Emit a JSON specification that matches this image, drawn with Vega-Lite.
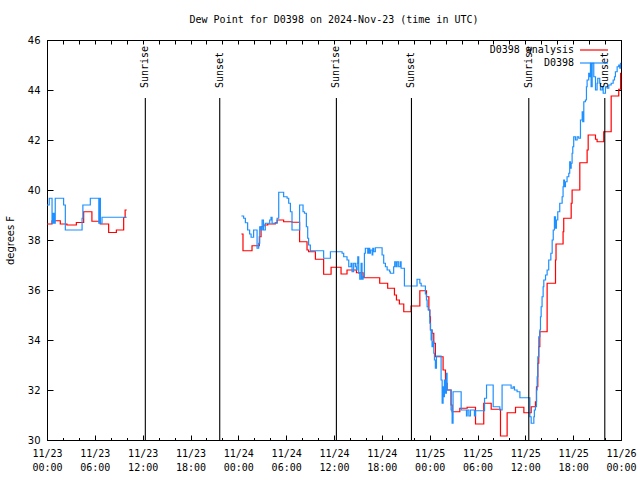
{
  "$schema": "https://vega.github.io/schema/vega-lite/v6.json",
  "width": 574,
  "height": 400,
  "autosize": {"type": "none"},
  "padding": {"left": 47, "top": 40, "right": 19, "bottom": 40},
  "background": "white",
  "title": {"text": "Dew Point for D0398 on 2024-Nov-23 (time in UTC)", "font": "DejaVu Sans Mono", "fontSize": 10, "fontWeight": "normal", "color": "black", "anchor": "middle", "frame": "group", "baseline": "alphabetic", "offset": 2},
  "config": {
    "view": {"stroke": "black", "strokeWidth": 1},
    "axis": {"domainColor": "black", "tickColor": "black", "labelColor": "black", "titleColor": "black", "grid": false, "domainWidth": 1, "tickWidth": 1}
  },
  "datasets": {
    "obs": [
      {"t": "2024-11-23T00:00:00Z", "s": "D0398 analysis", "g": 1, "v": 38.64},
      {"t": "2024-11-23T00:38:00Z", "s": "D0398 analysis", "g": 1, "v": 38.77},
      {"t": "2024-11-23T01:40:00Z", "s": "D0398 analysis", "g": 1, "v": 38.64},
      {"t": "2024-11-23T02:30:00Z", "s": "D0398 analysis", "g": 1, "v": 38.6},
      {"t": "2024-11-23T03:41:00Z", "s": "D0398 analysis", "g": 1, "v": 38.7},
      {"t": "2024-11-23T04:36:00Z", "s": "D0398 analysis", "g": 1, "v": 39.13},
      {"t": "2024-11-23T05:38:00Z", "s": "D0398 analysis", "g": 1, "v": 38.75},
      {"t": "2024-11-23T06:41:00Z", "s": "D0398 analysis", "g": 1, "v": 38.64},
      {"t": "2024-11-23T07:44:00Z", "s": "D0398 analysis", "g": 1, "v": 38.3},
      {"t": "2024-11-23T08:42:00Z", "s": "D0398 analysis", "g": 1, "v": 38.4},
      {"t": "2024-11-23T09:37:00Z", "s": "D0398 analysis", "g": 1, "v": 38.9},
      {"t": "2024-11-23T09:48:00Z", "s": "D0398 analysis", "g": 1, "v": 39.2},
      {"t": "2024-11-23T10:00:00Z", "s": "D0398 analysis", "g": 1, "v": 39.2},
      {"t": "2024-11-24T00:23:00Z", "s": "D0398 analysis", "g": 2, "v": 38.24},
      {"t": "2024-11-24T00:35:00Z", "s": "D0398 analysis", "g": 2, "v": 37.57},
      {"t": "2024-11-24T01:43:00Z", "s": "D0398 analysis", "g": 2, "v": 37.77},
      {"t": "2024-11-24T02:38:00Z", "s": "D0398 analysis", "g": 2, "v": 38.13},
      {"t": "2024-11-24T02:51:00Z", "s": "D0398 analysis", "g": 2, "v": 38.53},
      {"t": "2024-11-24T03:11:00Z", "s": "D0398 analysis", "g": 2, "v": 38.6},
      {"t": "2024-11-24T03:41:00Z", "s": "D0398 analysis", "g": 2, "v": 38.64},
      {"t": "2024-11-24T04:38:00Z", "s": "D0398 analysis", "g": 2, "v": 38.69},
      {"t": "2024-11-24T04:52:00Z", "s": "D0398 analysis", "g": 2, "v": 38.8},
      {"t": "2024-11-24T05:41:00Z", "s": "D0398 analysis", "g": 2, "v": 38.73},
      {"t": "2024-11-24T06:44:00Z", "s": "D0398 analysis", "g": 2, "v": 38.71},
      {"t": "2024-11-24T07:41:00Z", "s": "D0398 analysis", "g": 2, "v": 37.93},
      {"t": "2024-11-24T08:37:00Z", "s": "D0398 analysis", "g": 2, "v": 37.6},
      {"t": "2024-11-24T08:49:00Z", "s": "D0398 analysis", "g": 2, "v": 37.53},
      {"t": "2024-11-24T09:40:00Z", "s": "D0398 analysis", "g": 2, "v": 37.23},
      {"t": "2024-11-24T10:42:00Z", "s": "D0398 analysis", "g": 2, "v": 36.63},
      {"t": "2024-11-24T11:38:00Z", "s": "D0398 analysis", "g": 2, "v": 36.91},
      {"t": "2024-11-24T12:53:00Z", "s": "D0398 analysis", "g": 2, "v": 36.64},
      {"t": "2024-11-24T13:38:00Z", "s": "D0398 analysis", "g": 2, "v": 36.8},
      {"t": "2024-11-24T14:49:00Z", "s": "D0398 analysis", "g": 2, "v": 36.69},
      {"t": "2024-11-24T15:39:00Z", "s": "D0398 analysis", "g": 2, "v": 36.53},
      {"t": "2024-11-24T15:44:00Z", "s": "D0398 analysis", "g": 2, "v": 36.49},
      {"t": "2024-11-24T17:44:00Z", "s": "D0398 analysis", "g": 2, "v": 36.27},
      {"t": "2024-11-24T18:44:00Z", "s": "D0398 analysis", "g": 2, "v": 36.07},
      {"t": "2024-11-24T19:35:00Z", "s": "D0398 analysis", "g": 2, "v": 35.8},
      {"t": "2024-11-24T19:50:00Z", "s": "D0398 analysis", "g": 2, "v": 35.6},
      {"t": "2024-11-24T20:12:00Z", "s": "D0398 analysis", "g": 2, "v": 35.44},
      {"t": "2024-11-24T20:45:00Z", "s": "D0398 analysis", "g": 2, "v": 35.13},
      {"t": "2024-11-24T21:40:00Z", "s": "D0398 analysis", "g": 2, "v": 35.36},
      {"t": "2024-11-24T22:46:00Z", "s": "D0398 analysis", "g": 2, "v": 35.97},
      {"t": "2024-11-24T23:36:00Z", "s": "D0398 analysis", "g": 2, "v": 35.73},
      {"t": "2024-11-24T23:54:00Z", "s": "D0398 analysis", "g": 2, "v": 35.2},
      {"t": "2024-11-25T00:01:00Z", "s": "D0398 analysis", "g": 2, "v": 34.93},
      {"t": "2024-11-25T00:06:00Z", "s": "D0398 analysis", "g": 2, "v": 34.4},
      {"t": "2024-11-25T00:18:00Z", "s": "D0398 analysis", "g": 2, "v": 34.27},
      {"t": "2024-11-25T00:31:00Z", "s": "D0398 analysis", "g": 2, "v": 33.87},
      {"t": "2024-11-25T00:43:00Z", "s": "D0398 analysis", "g": 2, "v": 33.33},
      {"t": "2024-11-25T01:41:00Z", "s": "D0398 analysis", "g": 2, "v": 32.8},
      {"t": "2024-11-25T01:59:00Z", "s": "D0398 analysis", "g": 2, "v": 32.27},
      {"t": "2024-11-25T02:11:00Z", "s": "D0398 analysis", "g": 2, "v": 32.0},
      {"t": "2024-11-25T02:41:00Z", "s": "D0398 analysis", "g": 2, "v": 31.4},
      {"t": "2024-11-25T02:49:00Z", "s": "D0398 analysis", "g": 2, "v": 31.13},
      {"t": "2024-11-25T03:47:00Z", "s": "D0398 analysis", "g": 2, "v": 31.27},
      {"t": "2024-11-25T04:42:00Z", "s": "D0398 analysis", "g": 2, "v": 31.31},
      {"t": "2024-11-25T05:45:00Z", "s": "D0398 analysis", "g": 2, "v": 30.64},
      {"t": "2024-11-25T06:47:00Z", "s": "D0398 analysis", "g": 2, "v": 31.47},
      {"t": "2024-11-25T07:43:00Z", "s": "D0398 analysis", "g": 2, "v": 31.23},
      {"t": "2024-11-25T08:53:00Z", "s": "D0398 analysis", "g": 2, "v": 30.16},
      {"t": "2024-11-25T09:43:00Z", "s": "D0398 analysis", "g": 2, "v": 31.09},
      {"t": "2024-11-25T10:46:00Z", "s": "D0398 analysis", "g": 2, "v": 31.31},
      {"t": "2024-11-25T11:49:00Z", "s": "D0398 analysis", "g": 2, "v": 31.09},
      {"t": "2024-11-25T12:44:00Z", "s": "D0398 analysis", "g": 2, "v": 31.33},
      {"t": "2024-11-25T13:16:00Z", "s": "D0398 analysis", "g": 2, "v": 31.53},
      {"t": "2024-11-25T13:24:00Z", "s": "D0398 analysis", "g": 2, "v": 32.13},
      {"t": "2024-11-25T13:34:00Z", "s": "D0398 analysis", "g": 2, "v": 33.07},
      {"t": "2024-11-25T13:41:00Z", "s": "D0398 analysis", "g": 2, "v": 33.73},
      {"t": "2024-11-25T13:49:00Z", "s": "D0398 analysis", "g": 2, "v": 34.33},
      {"t": "2024-11-25T14:44:00Z", "s": "D0398 analysis", "g": 2, "v": 36.27},
      {"t": "2024-11-25T15:47:00Z", "s": "D0398 analysis", "g": 2, "v": 37.2},
      {"t": "2024-11-25T15:51:00Z", "s": "D0398 analysis", "g": 2, "v": 37.84},
      {"t": "2024-11-25T16:44:00Z", "s": "D0398 analysis", "g": 2, "v": 38.33},
      {"t": "2024-11-25T16:49:00Z", "s": "D0398 analysis", "g": 2, "v": 38.87},
      {"t": "2024-11-25T17:45:00Z", "s": "D0398 analysis", "g": 2, "v": 39.47},
      {"t": "2024-11-25T17:52:00Z", "s": "D0398 analysis", "g": 2, "v": 40.0},
      {"t": "2024-11-25T18:50:00Z", "s": "D0398 analysis", "g": 2, "v": 41.09},
      {"t": "2024-11-25T19:45:00Z", "s": "D0398 analysis", "g": 2, "v": 41.6},
      {"t": "2024-11-25T19:53:00Z", "s": "D0398 analysis", "g": 2, "v": 42.2},
      {"t": "2024-11-25T20:48:00Z", "s": "D0398 analysis", "g": 2, "v": 42.03},
      {"t": "2024-11-25T21:00:00Z", "s": "D0398 analysis", "g": 2, "v": 41.93},
      {"t": "2024-11-25T21:50:00Z", "s": "D0398 analysis", "g": 2, "v": 42.33},
      {"t": "2024-11-25T22:46:00Z", "s": "D0398 analysis", "g": 2, "v": 43.76},
      {"t": "2024-11-25T23:43:00Z", "s": "D0398 analysis", "g": 2, "v": 44.03},
      {"t": "2024-11-25T23:57:00Z", "s": "D0398 analysis", "g": 2, "v": 44.67},
      {"t": "2024-11-26T00:00:00Z", "s": "D0398 analysis", "g": 2, "v": 44.67},
      {"t": "2024-11-23T00:00:00Z", "s": "D0398", "g": 1, "v": 39.4},
      {"t": "2024-11-23T00:17:00Z", "s": "D0398", "g": 1, "v": 39.67},
      {"t": "2024-11-23T00:38:00Z", "s": "D0398", "g": 1, "v": 38.67},
      {"t": "2024-11-23T00:45:00Z", "s": "D0398", "g": 1, "v": 39.07},
      {"t": "2024-11-23T00:54:00Z", "s": "D0398", "g": 1, "v": 38.67},
      {"t": "2024-11-23T01:02:00Z", "s": "D0398", "g": 1, "v": 39.67},
      {"t": "2024-11-23T02:05:00Z", "s": "D0398", "g": 1, "v": 39.4},
      {"t": "2024-11-23T02:18:00Z", "s": "D0398", "g": 1, "v": 38.4},
      {"t": "2024-11-23T04:24:00Z", "s": "D0398", "g": 1, "v": 38.87},
      {"t": "2024-11-23T04:30:00Z", "s": "D0398", "g": 1, "v": 39.4},
      {"t": "2024-11-23T05:26:00Z", "s": "D0398", "g": 1, "v": 39.67},
      {"t": "2024-11-23T06:30:00Z", "s": "D0398", "g": 1, "v": 38.67},
      {"t": "2024-11-23T06:36:00Z", "s": "D0398", "g": 1, "v": 39.67},
      {"t": "2024-11-23T06:42:00Z", "s": "D0398", "g": 1, "v": 38.67},
      {"t": "2024-11-23T06:54:00Z", "s": "D0398", "g": 1, "v": 38.91},
      {"t": "2024-11-23T10:00:00Z", "s": "D0398", "g": 1, "v": 38.91},
      {"t": "2024-11-24T00:23:00Z", "s": "D0398", "g": 2, "v": 38.96},
      {"t": "2024-11-24T00:40:00Z", "s": "D0398", "g": 2, "v": 38.87},
      {"t": "2024-11-24T00:53:00Z", "s": "D0398", "g": 2, "v": 38.69},
      {"t": "2024-11-24T01:10:00Z", "s": "D0398", "g": 2, "v": 38.4},
      {"t": "2024-11-24T01:25:00Z", "s": "D0398", "g": 2, "v": 38.24},
      {"t": "2024-11-24T01:36:00Z", "s": "D0398", "g": 2, "v": 38.11},
      {"t": "2024-11-24T01:55:00Z", "s": "D0398", "g": 2, "v": 38.4},
      {"t": "2024-11-24T02:21:00Z", "s": "D0398", "g": 2, "v": 37.67},
      {"t": "2024-11-24T02:33:00Z", "s": "D0398", "g": 2, "v": 37.87},
      {"t": "2024-11-24T02:41:00Z", "s": "D0398", "g": 2, "v": 38.53},
      {"t": "2024-11-24T02:51:00Z", "s": "D0398", "g": 2, "v": 38.4},
      {"t": "2024-11-24T02:59:00Z", "s": "D0398", "g": 2, "v": 38.8},
      {"t": "2024-11-24T03:09:00Z", "s": "D0398", "g": 2, "v": 38.4},
      {"t": "2024-11-24T03:23:00Z", "s": "D0398", "g": 2, "v": 38.67},
      {"t": "2024-11-24T03:56:00Z", "s": "D0398", "g": 2, "v": 38.8},
      {"t": "2024-11-24T04:06:00Z", "s": "D0398", "g": 2, "v": 38.91},
      {"t": "2024-11-24T04:14:00Z", "s": "D0398", "g": 2, "v": 38.67},
      {"t": "2024-11-24T04:52:00Z", "s": "D0398", "g": 2, "v": 38.87},
      {"t": "2024-11-24T05:04:00Z", "s": "D0398", "g": 2, "v": 39.91},
      {"t": "2024-11-24T05:41:00Z", "s": "D0398", "g": 2, "v": 39.73},
      {"t": "2024-11-24T06:07:00Z", "s": "D0398", "g": 2, "v": 39.67},
      {"t": "2024-11-24T06:19:00Z", "s": "D0398", "g": 2, "v": 39.47},
      {"t": "2024-11-24T06:32:00Z", "s": "D0398", "g": 2, "v": 39.13},
      {"t": "2024-11-24T06:44:00Z", "s": "D0398", "g": 2, "v": 38.4},
      {"t": "2024-11-24T07:41:00Z", "s": "D0398", "g": 2, "v": 39.4},
      {"t": "2024-11-24T08:07:00Z", "s": "D0398", "g": 2, "v": 39.13},
      {"t": "2024-11-24T08:18:00Z", "s": "D0398", "g": 2, "v": 39.07},
      {"t": "2024-11-24T08:32:00Z", "s": "D0398", "g": 2, "v": 38.53},
      {"t": "2024-11-24T08:42:00Z", "s": "D0398", "g": 2, "v": 38.07},
      {"t": "2024-11-24T08:49:00Z", "s": "D0398", "g": 2, "v": 37.8},
      {"t": "2024-11-24T09:02:00Z", "s": "D0398", "g": 2, "v": 37.57},
      {"t": "2024-11-24T10:42:00Z", "s": "D0398", "g": 2, "v": 37.27},
      {"t": "2024-11-24T11:33:00Z", "s": "D0398", "g": 2, "v": 37.53},
      {"t": "2024-11-24T13:01:00Z", "s": "D0398", "g": 2, "v": 37.47},
      {"t": "2024-11-24T13:13:00Z", "s": "D0398", "g": 2, "v": 37.33},
      {"t": "2024-11-24T13:38:00Z", "s": "D0398", "g": 2, "v": 37.2},
      {"t": "2024-11-24T13:51:00Z", "s": "D0398", "g": 2, "v": 36.93},
      {"t": "2024-11-24T14:08:00Z", "s": "D0398", "g": 2, "v": 37.07},
      {"t": "2024-11-24T14:16:00Z", "s": "D0398", "g": 2, "v": 36.73},
      {"t": "2024-11-24T14:28:00Z", "s": "D0398", "g": 2, "v": 37.07},
      {"t": "2024-11-24T14:41:00Z", "s": "D0398", "g": 2, "v": 36.93},
      {"t": "2024-11-24T14:49:00Z", "s": "D0398", "g": 2, "v": 36.8},
      {"t": "2024-11-24T14:54:00Z", "s": "D0398", "g": 2, "v": 37.07},
      {"t": "2024-11-24T14:59:00Z", "s": "D0398", "g": 2, "v": 37.33},
      {"t": "2024-11-24T15:06:00Z", "s": "D0398", "g": 2, "v": 36.67},
      {"t": "2024-11-24T15:14:00Z", "s": "D0398", "g": 2, "v": 36.43},
      {"t": "2024-11-24T15:24:00Z", "s": "D0398", "g": 2, "v": 37.07},
      {"t": "2024-11-24T15:31:00Z", "s": "D0398", "g": 2, "v": 36.43},
      {"t": "2024-11-24T15:39:00Z", "s": "D0398", "g": 2, "v": 36.53},
      {"t": "2024-11-24T15:49:00Z", "s": "D0398", "g": 2, "v": 37.47},
      {"t": "2024-11-24T15:56:00Z", "s": "D0398", "g": 2, "v": 37.67},
      {"t": "2024-11-24T16:14:00Z", "s": "D0398", "g": 2, "v": 37.47},
      {"t": "2024-11-24T16:22:00Z", "s": "D0398", "g": 2, "v": 37.67},
      {"t": "2024-11-24T16:29:00Z", "s": "D0398", "g": 2, "v": 37.47},
      {"t": "2024-11-24T16:34:00Z", "s": "D0398", "g": 2, "v": 37.6},
      {"t": "2024-11-24T16:47:00Z", "s": "D0398", "g": 2, "v": 37.4},
      {"t": "2024-11-24T16:52:00Z", "s": "D0398", "g": 2, "v": 37.67},
      {"t": "2024-11-24T16:59:00Z", "s": "D0398", "g": 2, "v": 37.53},
      {"t": "2024-11-24T17:11:00Z", "s": "D0398", "g": 2, "v": 37.69},
      {"t": "2024-11-24T18:02:00Z", "s": "D0398", "g": 2, "v": 37.4},
      {"t": "2024-11-24T18:14:00Z", "s": "D0398", "g": 2, "v": 37.07},
      {"t": "2024-11-24T18:27:00Z", "s": "D0398", "g": 2, "v": 36.93},
      {"t": "2024-11-24T18:40:00Z", "s": "D0398", "g": 2, "v": 36.8},
      {"t": "2024-11-24T18:59:00Z", "s": "D0398", "g": 2, "v": 36.73},
      {"t": "2024-11-24T19:04:00Z", "s": "D0398", "g": 2, "v": 36.67},
      {"t": "2024-11-24T19:29:00Z", "s": "D0398", "g": 2, "v": 36.93},
      {"t": "2024-11-24T19:37:00Z", "s": "D0398", "g": 2, "v": 37.13},
      {"t": "2024-11-24T19:47:00Z", "s": "D0398", "g": 2, "v": 36.93},
      {"t": "2024-11-24T19:55:00Z", "s": "D0398", "g": 2, "v": 37.13},
      {"t": "2024-11-24T20:07:00Z", "s": "D0398", "g": 2, "v": 36.93},
      {"t": "2024-11-24T20:20:00Z", "s": "D0398", "g": 2, "v": 37.13},
      {"t": "2024-11-24T20:25:00Z", "s": "D0398", "g": 2, "v": 36.87},
      {"t": "2024-11-24T20:50:00Z", "s": "D0398", "g": 2, "v": 36.16},
      {"t": "2024-11-24T22:25:00Z", "s": "D0398", "g": 2, "v": 36.43},
      {"t": "2024-11-24T22:46:00Z", "s": "D0398", "g": 2, "v": 36.27},
      {"t": "2024-11-24T22:56:00Z", "s": "D0398", "g": 2, "v": 36.16},
      {"t": "2024-11-24T23:28:00Z", "s": "D0398", "g": 2, "v": 35.84},
      {"t": "2024-11-24T23:36:00Z", "s": "D0398", "g": 2, "v": 35.6},
      {"t": "2024-11-24T23:41:00Z", "s": "D0398", "g": 2, "v": 35.33},
      {"t": "2024-11-24T23:49:00Z", "s": "D0398", "g": 2, "v": 35.2},
      {"t": "2024-11-25T00:01:00Z", "s": "D0398", "g": 2, "v": 34.67},
      {"t": "2024-11-25T00:06:00Z", "s": "D0398", "g": 2, "v": 34.4},
      {"t": "2024-11-25T00:11:00Z", "s": "D0398", "g": 2, "v": 34.0},
      {"t": "2024-11-25T00:14:00Z", "s": "D0398", "g": 2, "v": 34.4},
      {"t": "2024-11-25T00:18:00Z", "s": "D0398", "g": 2, "v": 33.73},
      {"t": "2024-11-25T00:26:00Z", "s": "D0398", "g": 2, "v": 33.93},
      {"t": "2024-11-25T00:31:00Z", "s": "D0398", "g": 2, "v": 33.47},
      {"t": "2024-11-25T00:36:00Z", "s": "D0398", "g": 2, "v": 33.2},
      {"t": "2024-11-25T00:43:00Z", "s": "D0398", "g": 2, "v": 32.87},
      {"t": "2024-11-25T00:51:00Z", "s": "D0398", "g": 2, "v": 33.36},
      {"t": "2024-11-25T01:26:00Z", "s": "D0398", "g": 2, "v": 32.4},
      {"t": "2024-11-25T01:34:00Z", "s": "D0398", "g": 2, "v": 31.47},
      {"t": "2024-11-25T01:41:00Z", "s": "D0398", "g": 2, "v": 32.13},
      {"t": "2024-11-25T01:46:00Z", "s": "D0398", "g": 2, "v": 31.73},
      {"t": "2024-11-25T01:51:00Z", "s": "D0398", "g": 2, "v": 32.4},
      {"t": "2024-11-25T01:59:00Z", "s": "D0398", "g": 2, "v": 31.87},
      {"t": "2024-11-25T02:06:00Z", "s": "D0398", "g": 2, "v": 32.67},
      {"t": "2024-11-25T02:11:00Z", "s": "D0398", "g": 2, "v": 32.0},
      {"t": "2024-11-25T02:41:00Z", "s": "D0398", "g": 2, "v": 31.2},
      {"t": "2024-11-25T02:49:00Z", "s": "D0398", "g": 2, "v": 30.67},
      {"t": "2024-11-25T02:56:00Z", "s": "D0398", "g": 2, "v": 31.93},
      {"t": "2024-11-25T03:57:00Z", "s": "D0398", "g": 2, "v": 31.2},
      {"t": "2024-11-25T04:37:00Z", "s": "D0398", "g": 2, "v": 30.96},
      {"t": "2024-11-25T04:42:00Z", "s": "D0398", "g": 2, "v": 31.2},
      {"t": "2024-11-25T04:55:00Z", "s": "D0398", "g": 2, "v": 30.96},
      {"t": "2024-11-25T05:07:00Z", "s": "D0398", "g": 2, "v": 31.2},
      {"t": "2024-11-25T05:37:00Z", "s": "D0398", "g": 2, "v": 30.96},
      {"t": "2024-11-25T05:45:00Z", "s": "D0398", "g": 2, "v": 31.17},
      {"t": "2024-11-25T06:53:00Z", "s": "D0398", "g": 2, "v": 31.67},
      {"t": "2024-11-25T07:08:00Z", "s": "D0398", "g": 2, "v": 32.2},
      {"t": "2024-11-25T07:58:00Z", "s": "D0398", "g": 2, "v": 31.33},
      {"t": "2024-11-25T08:48:00Z", "s": "D0398", "g": 2, "v": 31.2},
      {"t": "2024-11-25T09:05:00Z", "s": "D0398", "g": 2, "v": 32.2},
      {"t": "2024-11-25T10:13:00Z", "s": "D0398", "g": 2, "v": 32.07},
      {"t": "2024-11-25T10:28:00Z", "s": "D0398", "g": 2, "v": 32.13},
      {"t": "2024-11-25T10:38:00Z", "s": "D0398", "g": 2, "v": 32.0},
      {"t": "2024-11-25T10:58:00Z", "s": "D0398", "g": 2, "v": 31.93},
      {"t": "2024-11-25T11:19:00Z", "s": "D0398", "g": 2, "v": 31.69},
      {"t": "2024-11-25T12:34:00Z", "s": "D0398", "g": 2, "v": 30.93},
      {"t": "2024-11-25T12:44:00Z", "s": "D0398", "g": 2, "v": 30.67},
      {"t": "2024-11-25T13:04:00Z", "s": "D0398", "g": 2, "v": 30.93},
      {"t": "2024-11-25T13:08:00Z", "s": "D0398", "g": 2, "v": 31.2},
      {"t": "2024-11-25T13:16:00Z", "s": "D0398", "g": 2, "v": 31.33},
      {"t": "2024-11-25T13:24:00Z", "s": "D0398", "g": 2, "v": 32.0},
      {"t": "2024-11-25T13:29:00Z", "s": "D0398", "g": 2, "v": 32.53},
      {"t": "2024-11-25T13:34:00Z", "s": "D0398", "g": 2, "v": 33.33},
      {"t": "2024-11-25T13:41:00Z", "s": "D0398", "g": 2, "v": 34.13},
      {"t": "2024-11-25T13:49:00Z", "s": "D0398", "g": 2, "v": 34.4},
      {"t": "2024-11-25T13:54:00Z", "s": "D0398", "g": 2, "v": 34.93},
      {"t": "2024-11-25T13:59:00Z", "s": "D0398", "g": 2, "v": 35.33},
      {"t": "2024-11-25T14:06:00Z", "s": "D0398", "g": 2, "v": 35.73},
      {"t": "2024-11-25T14:14:00Z", "s": "D0398", "g": 2, "v": 36.13},
      {"t": "2024-11-25T14:19:00Z", "s": "D0398", "g": 2, "v": 36.4},
      {"t": "2024-11-25T14:32:00Z", "s": "D0398", "g": 2, "v": 36.6},
      {"t": "2024-11-25T14:44:00Z", "s": "D0398", "g": 2, "v": 36.8},
      {"t": "2024-11-25T14:56:00Z", "s": "D0398", "g": 2, "v": 37.2},
      {"t": "2024-11-25T15:12:00Z", "s": "D0398", "g": 2, "v": 37.47},
      {"t": "2024-11-25T15:22:00Z", "s": "D0398", "g": 2, "v": 38.0},
      {"t": "2024-11-25T15:30:00Z", "s": "D0398", "g": 2, "v": 38.4},
      {"t": "2024-11-25T15:39:00Z", "s": "D0398", "g": 2, "v": 38.93},
      {"t": "2024-11-25T15:47:00Z", "s": "D0398", "g": 2, "v": 38.47},
      {"t": "2024-11-25T15:54:00Z", "s": "D0398", "g": 2, "v": 38.8},
      {"t": "2024-11-25T16:04:00Z", "s": "D0398", "g": 2, "v": 39.13},
      {"t": "2024-11-25T16:19:00Z", "s": "D0398", "g": 2, "v": 39.47},
      {"t": "2024-11-25T16:37:00Z", "s": "D0398", "g": 2, "v": 39.73},
      {"t": "2024-11-25T16:44:00Z", "s": "D0398", "g": 2, "v": 40.13},
      {"t": "2024-11-25T16:49:00Z", "s": "D0398", "g": 2, "v": 40.4},
      {"t": "2024-11-25T16:54:00Z", "s": "D0398", "g": 2, "v": 40.13},
      {"t": "2024-11-25T17:02:00Z", "s": "D0398", "g": 2, "v": 40.33},
      {"t": "2024-11-25T17:14:00Z", "s": "D0398", "g": 2, "v": 40.53},
      {"t": "2024-11-25T17:27:00Z", "s": "D0398", "g": 2, "v": 40.67},
      {"t": "2024-11-25T17:34:00Z", "s": "D0398", "g": 2, "v": 41.13},
      {"t": "2024-11-25T17:40:00Z", "s": "D0398", "g": 2, "v": 40.87},
      {"t": "2024-11-25T17:45:00Z", "s": "D0398", "g": 2, "v": 41.07},
      {"t": "2024-11-25T17:52:00Z", "s": "D0398", "g": 2, "v": 41.47},
      {"t": "2024-11-25T17:57:00Z", "s": "D0398", "g": 2, "v": 41.73},
      {"t": "2024-11-25T18:04:00Z", "s": "D0398", "g": 2, "v": 42.13},
      {"t": "2024-11-25T18:17:00Z", "s": "D0398", "g": 2, "v": 42.0},
      {"t": "2024-11-25T18:30:00Z", "s": "D0398", "g": 2, "v": 42.13},
      {"t": "2024-11-25T18:42:00Z", "s": "D0398", "g": 2, "v": 42.07},
      {"t": "2024-11-25T18:55:00Z", "s": "D0398", "g": 2, "v": 42.8},
      {"t": "2024-11-25T19:08:00Z", "s": "D0398", "g": 2, "v": 43.13},
      {"t": "2024-11-25T19:12:00Z", "s": "D0398", "g": 2, "v": 42.73},
      {"t": "2024-11-25T19:20:00Z", "s": "D0398", "g": 2, "v": 43.53},
      {"t": "2024-11-25T19:32:00Z", "s": "D0398", "g": 2, "v": 43.6},
      {"t": "2024-11-25T19:40:00Z", "s": "D0398", "g": 2, "v": 44.13},
      {"t": "2024-11-25T19:45:00Z", "s": "D0398", "g": 2, "v": 44.4},
      {"t": "2024-11-25T19:57:00Z", "s": "D0398", "g": 2, "v": 44.67},
      {"t": "2024-11-25T20:05:00Z", "s": "D0398", "g": 2, "v": 44.53},
      {"t": "2024-11-25T20:10:00Z", "s": "D0398", "g": 2, "v": 45.07},
      {"t": "2024-11-25T20:15:00Z", "s": "D0398", "g": 2, "v": 44.13},
      {"t": "2024-11-25T20:23:00Z", "s": "D0398", "g": 2, "v": 45.07},
      {"t": "2024-11-25T20:35:00Z", "s": "D0398", "g": 2, "v": 44.53},
      {"t": "2024-11-25T20:48:00Z", "s": "D0398", "g": 2, "v": 44.0},
      {"t": "2024-11-25T21:00:00Z", "s": "D0398", "g": 2, "v": 44.27},
      {"t": "2024-11-25T21:05:00Z", "s": "D0398", "g": 2, "v": 44.47},
      {"t": "2024-11-25T21:20:00Z", "s": "D0398", "g": 2, "v": 44.27},
      {"t": "2024-11-25T21:25:00Z", "s": "D0398", "g": 2, "v": 44.0},
      {"t": "2024-11-25T21:38:00Z", "s": "D0398", "g": 2, "v": 44.13},
      {"t": "2024-11-25T21:46:00Z", "s": "D0398", "g": 2, "v": 43.87},
      {"t": "2024-11-25T22:03:00Z", "s": "D0398", "g": 2, "v": 44.13},
      {"t": "2024-11-25T22:16:00Z", "s": "D0398", "g": 2, "v": 44.07},
      {"t": "2024-11-25T22:28:00Z", "s": "D0398", "g": 2, "v": 44.2},
      {"t": "2024-11-25T22:46:00Z", "s": "D0398", "g": 2, "v": 44.27},
      {"t": "2024-11-25T23:01:00Z", "s": "D0398", "g": 2, "v": 44.4},
      {"t": "2024-11-25T23:11:00Z", "s": "D0398", "g": 2, "v": 44.53},
      {"t": "2024-11-25T23:18:00Z", "s": "D0398", "g": 2, "v": 44.73},
      {"t": "2024-11-25T23:31:00Z", "s": "D0398", "g": 2, "v": 44.93},
      {"t": "2024-11-25T23:43:00Z", "s": "D0398", "g": 2, "v": 45.0},
      {"t": "2024-11-25T23:51:00Z", "s": "D0398", "g": 2, "v": 44.87},
      {"t": "2024-11-25T23:56:00Z", "s": "D0398", "g": 2, "v": 45.07},
      {"t": "2024-11-26T00:00:00Z", "s": "D0398", "g": 2, "v": 45.07}
    ],
    "sun": [
      {"t": "2024-11-23T12:20:00Z", "event": "Sunrise"},
      {"t": "2024-11-23T21:40:00Z", "event": "Sunset"},
      {"t": "2024-11-24T12:18:00Z", "event": "Sunrise"},
      {"t": "2024-11-24T21:43:00Z", "event": "Sunset"},
      {"t": "2024-11-25T12:26:00Z", "event": "Sunrise"},
      {"t": "2024-11-25T21:58:00Z", "event": "Sunset"}
    ]
  },
  "resolve": {"scale": {"x": "independent", "y": "independent"}, "axis": {"x": "independent", "y": "independent"}},
  "layer": [
    {
      "data": {"name": "obs"},
      "mark": {"type": "line", "interpolate": "step-after", "strokeWidth": 1.2},
      "encoding": {
        "x": {
          "field": "t", "type": "temporal",
          "scale": {"type": "utc", "domain": [{"year": 2024, "month": 11, "date": 23, "hours": 0, "utc": true}, {"year": 2024, "month": 11, "date": 26, "hours": 0, "utc": true}], "nice": false},
          "axis": {
            "orient": "bottom", "title": null,
            "values": [
              {"year": 2024, "month": 11, "date": 23, "hours": 0, "utc": true},
              {"year": 2024, "month": 11, "date": 23, "hours": 6, "utc": true},
              {"year": 2024, "month": 11, "date": 23, "hours": 12, "utc": true},
              {"year": 2024, "month": 11, "date": 23, "hours": 18, "utc": true},
              {"year": 2024, "month": 11, "date": 24, "hours": 0, "utc": true},
              {"year": 2024, "month": 11, "date": 24, "hours": 6, "utc": true},
              {"year": 2024, "month": 11, "date": 24, "hours": 12, "utc": true},
              {"year": 2024, "month": 11, "date": 24, "hours": 18, "utc": true},
              {"year": 2024, "month": 11, "date": 25, "hours": 0, "utc": true},
              {"year": 2024, "month": 11, "date": 25, "hours": 6, "utc": true},
              {"year": 2024, "month": 11, "date": 25, "hours": 12, "utc": true},
              {"year": 2024, "month": 11, "date": 25, "hours": 18, "utc": true},
              {"year": 2024, "month": 11, "date": 26, "hours": 0, "utc": true}
            ],
            "tickSize": -5,
            "format": "%m/%d %H:%M",
            "labelExpr": "split(datum.label, ' ')",
            "labelFont": "DejaVu Sans Mono", "labelFontSize": 10, "labelLineHeight": 14,
            "labelPadding": 13, "labelFlush": false, "labelOverlap": false, "labelBound": false, "labelAngle": 0, "labelBaseline": "top"
          }
        },
        "y": {
          "field": "v", "type": "quantitative",
          "scale": {"domain": [30, 46], "nice": false, "zero": false},
          "axis": {
            "orient": "left", "values": [30, 32, 34, 36, 38, 40, 42, 44, 46],
            "tickSize": -6, "labelPadding": 13,
            "labelFont": "DejaVu Sans", "labelFontSize": 10,
            "title": "degrees F", "titleFont": "DejaVu Sans", "titleFontSize": 10, "titleFontWeight": "normal", "titlePadding": 12
          }
        },
        "detail": {"field": "g", "type": "nominal"},
        "color": {
          "field": "s", "type": "nominal",
          "scale": {"domain": ["D0398 analysis", "D0398"], "range": ["#ff0000", "#1e90ff"]},
          "legend": {
            "title": null, "orient": "none", "legendX": 541, "legendY": 4,
            "symbolType": "M-2.8,0H2.8", "symbolSize": 100, "symbolStrokeWidth": 1.2,
            "labelAlign": "right", "labelOffset": -26,
            "labelFont": "DejaVu Sans Mono", "labelFontSize": 10, "labelColor": "black",
            "rowPadding": 2, "padding": 0, "labelLimit": 300
          }
        }
      }
    },
    {
      "data": {"name": "sun"},
      "mark": {"type": "rule", "color": "black", "strokeWidth": 1.1},
      "encoding": {
        "x": {
          "field": "t", "type": "temporal",
          "scale": {"type": "utc", "domain": [{"year": 2024, "month": 11, "date": 23, "hours": 0, "utc": true}, {"year": 2024, "month": 11, "date": 26, "hours": 0, "utc": true}], "nice": false},
          "axis": {"orient": "top", "title": null, "labels": false, "tickSize": -4,
            "values": [1732320000000, 1732327200000, 1732334400000, 1732341600000, 1732348800000, 1732356000000, 1732363200000, 1732370400000, 1732377600000, 1732384800000, 1732392000000, 1732399200000, 1732406400000, 1732413600000, 1732420800000, 1732428000000, 1732435200000, 1732442400000, 1732449600000, 1732456800000, 1732464000000, 1732471200000, 1732478400000, 1732485600000, 1732492800000, 1732500000000, 1732507200000, 1732514400000, 1732521600000, 1732528800000, 1732536000000, 1732543200000, 1732550400000, 1732557600000, 1732564800000, 1732572000000, 1732579200000]}
        },
        "y": {"datum": 30, "type": "quantitative", "scale": {"domain": [30, 46], "nice": false, "zero": false}, "axis": {"orient": "right", "values": [30, 32, 34, 36, 38, 40, 42, 44, 46], "tickSize": -6, "labels": false, "title": null}},
        "y2": {"datum": 43.68}
      }
    },
    {
      "data": {"name": "sun"},
      "mark": {"type": "text", "angle": 270, "align": "left", "baseline": "middle", "font": "DejaVu Sans Mono", "fontSize": 10, "color": "black"},
      "encoding": {
        "x": {"field": "t", "type": "temporal", "scale": {"type": "utc", "domain": [{"year": 2024, "month": 11, "date": 23, "hours": 0, "utc": true}, {"year": 2024, "month": 11, "date": 26, "hours": 0, "utc": true}], "nice": false},
          "axis": {"orient": "bottom", "title": null, "labels": false, "domain": false, "tickSize": -2.5,
            "values": [1732320000000, 1732327200000, 1732334400000, 1732341600000, 1732348800000, 1732356000000, 1732363200000, 1732370400000, 1732377600000, 1732384800000, 1732392000000, 1732399200000, 1732406400000, 1732413600000, 1732420800000, 1732428000000, 1732435200000, 1732442400000, 1732449600000, 1732456800000, 1732464000000, 1732471200000, 1732478400000, 1732485600000, 1732492800000, 1732500000000, 1732507200000, 1732514400000, 1732521600000, 1732528800000, 1732536000000, 1732543200000, 1732550400000, 1732557600000, 1732564800000, 1732572000000, 1732579200000]}},
        "y": {"datum": 44.08, "type": "quantitative", "scale": {"domain": [30, 46], "nice": false, "zero": false}, "axis": null},
        "text": {"field": "event", "type": "nominal"}
      }
    }
  ]
}
